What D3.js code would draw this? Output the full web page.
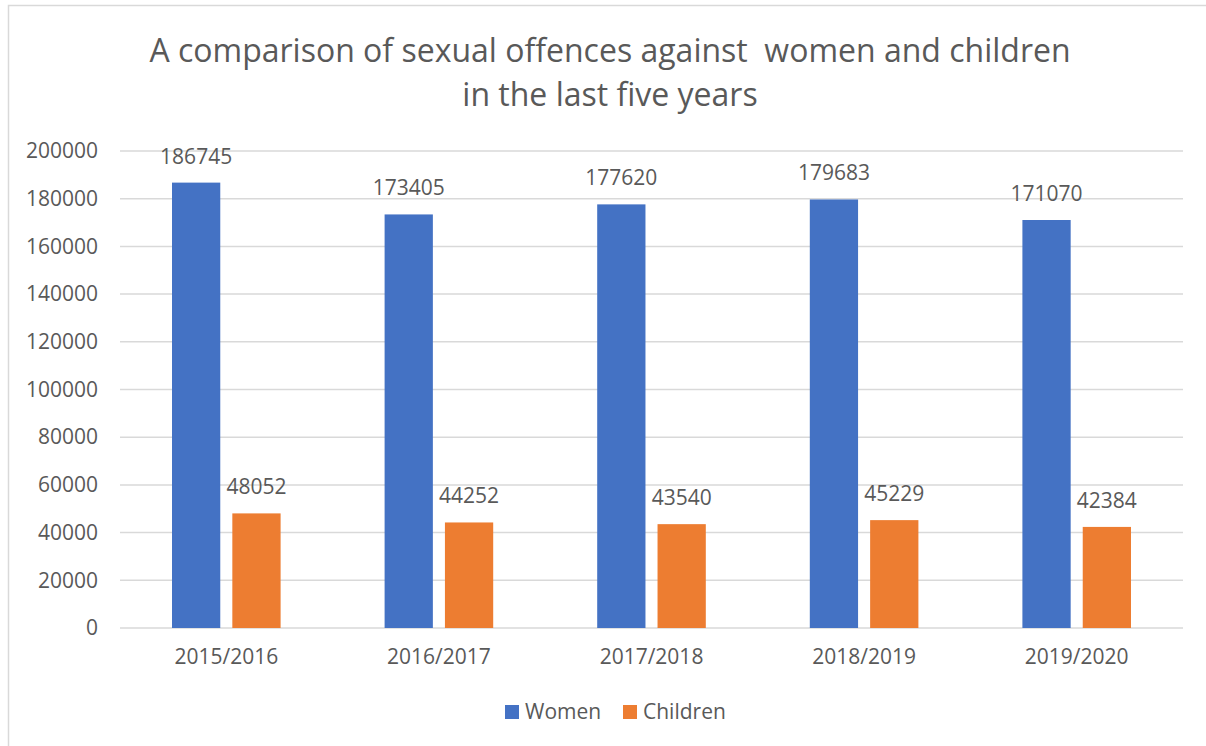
<!DOCTYPE html>
<html>
<head>
<meta charset="utf-8">
<script src="https://cdn.jsdelivr.net/npm/d3@7"></script>
<style>
  body { margin: 0; background: #fff; }
  svg text { font-family: "Open Sans", sans-serif; fill: #595959; }
</style>
</head>
<body>
<div class="chart"></div>
<script>
// data
const years = ['2015/2016', '2016/2017', '2017/2018', '2018/2019', '2019/2020'];
const women = [186745, 173405, 177620, 179683, 171070];
const children = [48052, 44252, 43540, 45229, 42384];
const yTicks = [0, 20000, 40000, 60000, 80000, 100000, 120000, 140000, 160000, 180000, 200000];
const seriesNames = ['Women', 'Children'];
const colors = ['#4472C4', '#ED7D31'];

const W = 1206, H = 746;
const margin = { top: 151, right: 23, bottom: 118, left: 120 };
const width = W - margin.left - margin.right;
const height = H - margin.top - margin.bottom;

const svg = d3.select('.chart').append('svg')
  .attr('width', W)
  .attr('height', H);

// outer chart border (cropped on right and bottom)
svg.append('rect')
  .attr('x', 8.5).attr('y', 5.5)
  .attr('width', W + 20).attr('height', H + 20)
  .attr('fill', 'none')
  .attr('stroke', '#d9d9d9')
  .attr('stroke-width', 1.5);

// title
const title = svg.append('text')
  .attr('text-anchor', 'middle')
  .style('font-size', '32px')
  .style('white-space', 'pre');
title.append('tspan').attr('x', 610).attr('y', 62).text('A comparison of sexual offences against  women and children');
title.append('tspan').attr('x', 610).attr('y', 106).text('in the last five years');

const g = svg.append('g')
  .attr('transform', `translate(${margin.left},${margin.top})`);

const x = d3.scaleBand()
  .domain(years)
  .range([0, width])
  .paddingInner(0)
  .paddingOuter(0);

const x1 = d3.scaleBand()
  .domain(seriesNames)
  .range([52, x.bandwidth() - 52])
  .paddingInner(0.2);

const y = d3.scaleLinear()
  .domain([0, 200000])
  .range([height, 0]);

// gridlines
g.selectAll('.grid')
  .data(yTicks)
  .enter().append('line')
  .attr('x1', 0).attr('x2', width)
  .attr('y1', d => y(d)).attr('y2', d => y(d))
  .attr('stroke', '#d9d9d9')
  .attr('stroke-width', 1.5);

// y axis labels
const yAxis = d3.axisLeft(y).tickValues(yTicks).tickSize(0).tickPadding(22).tickFormat(d3.format('d'));
g.append('g').call(yAxis)
  .call(s => s.select('.domain').remove())
  .selectAll('text')
  .style('font-size', '21px')
  .attr('fill', '#595959');

// x axis labels
const xAxis = d3.axisBottom(x).tickSize(0).tickPadding(21);
g.append('g')
  .attr('transform', `translate(0,${height})`)
  .call(xAxis)
  .call(s => s.select('.domain').remove())
  .selectAll('text')
  .style('font-size', '21px')
  .attr('fill', '#595959');

const rows = years.map((yr, i) => ({ year: yr, values: [women[i], children[i]] }));

const groups = g.selectAll('.cat')
  .data(rows)
  .enter().append('g')
  .attr('transform', d => `translate(${x(d.year)},0)`);

groups.selectAll('rect')
  .data(d => d.values.map((v, j) => ({ name: seriesNames[j], value: v, j })))
  .enter().append('rect')
  .attr('x', d => x1(d.name))
  .attr('width', x1.bandwidth())
  .attr('y', d => y(d.value))
  .attr('height', d => height - y(d.value))
  .attr('fill', d => colors[d.j]);

groups.selectAll('.lbl')
  .data(d => d.values.map((v, j) => ({ name: seriesNames[j], value: v })))
  .enter().append('text')
  .attr('x', d => x1(d.name) + x1.bandwidth() / 2)
  .attr('y', d => y(d.value) - 19)
  .attr('text-anchor', 'middle')
  .style('font-size', '21px')
  .text(d => d.value);

// legend
const legendPos = [{ sx: 505, tx: 525 }, { sx: 623, tx: 643 }];
const legend = svg.selectAll('.legend')
  .data(seriesNames)
  .enter().append('g');
legend.append('rect')
  .attr('x', (d, i) => legendPos[i].sx)
  .attr('y', 705)
  .attr('width', 14).attr('height', 14)
  .attr('fill', (d, i) => colors[i]);
legend.append('text')
  .attr('x', (d, i) => legendPos[i].tx)
  .attr('y', 719)
  .style('font-size', '21px')
  .text(d => d);
</script>
</body>
</html>
